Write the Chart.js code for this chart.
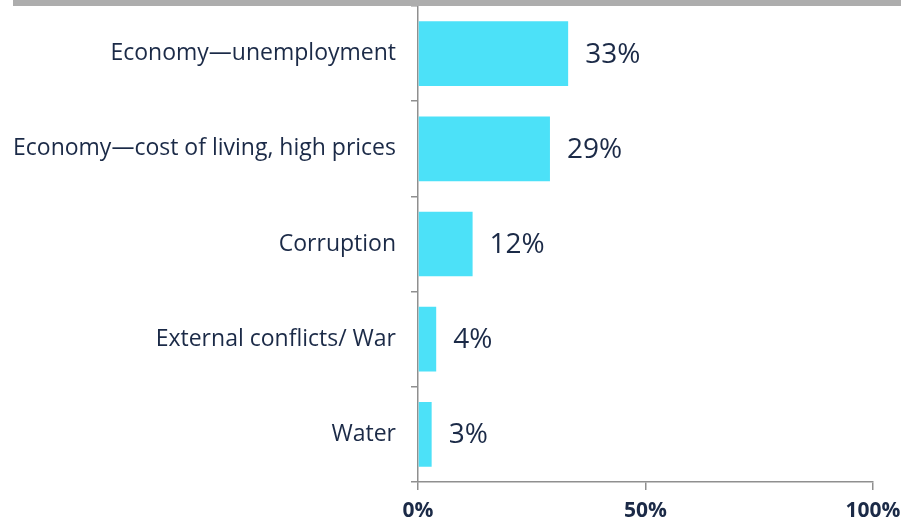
<!DOCTYPE html>
<html>
<head>
<meta charset="utf-8">
<script src="https://cdn.jsdelivr.net/npm/chart.js@4"></script>
<style>
  html, body { margin: 0; padding: 0; background: #fff; }
  #wrap { position: relative; width: 901px; height: 522px; }
  #topbar { position: absolute; left: 13px; top: 0; width: 888px; height: 6px; background: #adadad; }
</style>
</head>
<body>
<div id="wrap">
  <canvas id="chart1" width="901" height="522"></canvas>
  <div id="topbar"></div>
</div>
<script>
var categories = [
  'Economy\u2014unemployment',
  'Economy\u2014cost of living, high prices',
  'Corruption',
  'External conflicts/ War',
  'Water'
];
var shares = [33, 29, 12, 4, 3];
var xTicks = [0, 50, 100];

var navy = '#1b2a47';
var axisGrey = '#8f8f8f';

// draws the % next to every bar
const valueLabels = {
  id: 'valueLabels',
  afterDatasetsDraw(chart) {
    const ctx = chart.ctx;
    const meta = chart.getDatasetMeta(0);
    ctx.save();
    ctx.font = '28px "Open Sans", sans-serif';
    ctx.fillStyle = navy;
    ctx.textAlign = 'left';
    ctx.textBaseline = 'middle';
    meta.data.forEach(function(bar, i) {
      ctx.fillText(shares[i] + '%', bar.x + 17, bar.y + 1);
    });
    ctx.restore();
  }
};

const chart1Context = document.getElementById('chart1').getContext('2d');
new Chart(chart1Context, {
  type: 'bar',
  data: {
    labels: categories,
    datasets: [{
      data: shares,
      backgroundColor: '#4ce1f8',
      borderWidth: 0,
      categoryPercentage: 0.68,
      barPercentage: 1
    }]
  },
  options: {
    indexAxis: 'y',
    responsive: false,
    animation: false,
    layout: {
      padding: { top: 6, right: 28, left: 0, bottom: 0 }
    },
    plugins: {
      legend: { display: false },
      tooltip: { enabled: false }
    },
    scales: {
      x: {
        min: 0,
        max: 100,
        afterBuildTicks: function(scale) {
          scale.ticks = xTicks.map(function(v) { return { value: v }; });
        },
        afterFit: function(scale) {
          scale.height = 40;
          scale.paddingLeft = 0;
          scale.paddingRight = 0;
        },
        border: { color: axisGrey, width: 1.5 },
        grid: {
          drawOnChartArea: false,
          color: axisGrey,
          tickLength: 8,
          lineWidth: 1.5
        },
        ticks: {
          color: navy,
          padding: 8,
          maxRotation: 0,
          font: { family: '"Open Sans", sans-serif', size: 21, weight: 'bold' },
          callback: function(v) { return v + '%'; }
        }
      },
      y: {
        afterFit: function(scale) {
          scale.width = 418;
          scale.paddingTop = 0;
          scale.paddingBottom = 0;
        },
        border: { color: axisGrey, width: 1.5 },
        grid: {
          offset: true,
          drawOnChartArea: false,
          color: axisGrey,
          tickLength: 7,
          lineWidth: 1.5
        },
        ticks: {
          color: navy,
          padding: 15,
          font: { family: '"Open Sans", sans-serif', size: 23 }
        }
      }
    }
  },
  plugins: [valueLabels]
});
</script>
</body>
</html>
